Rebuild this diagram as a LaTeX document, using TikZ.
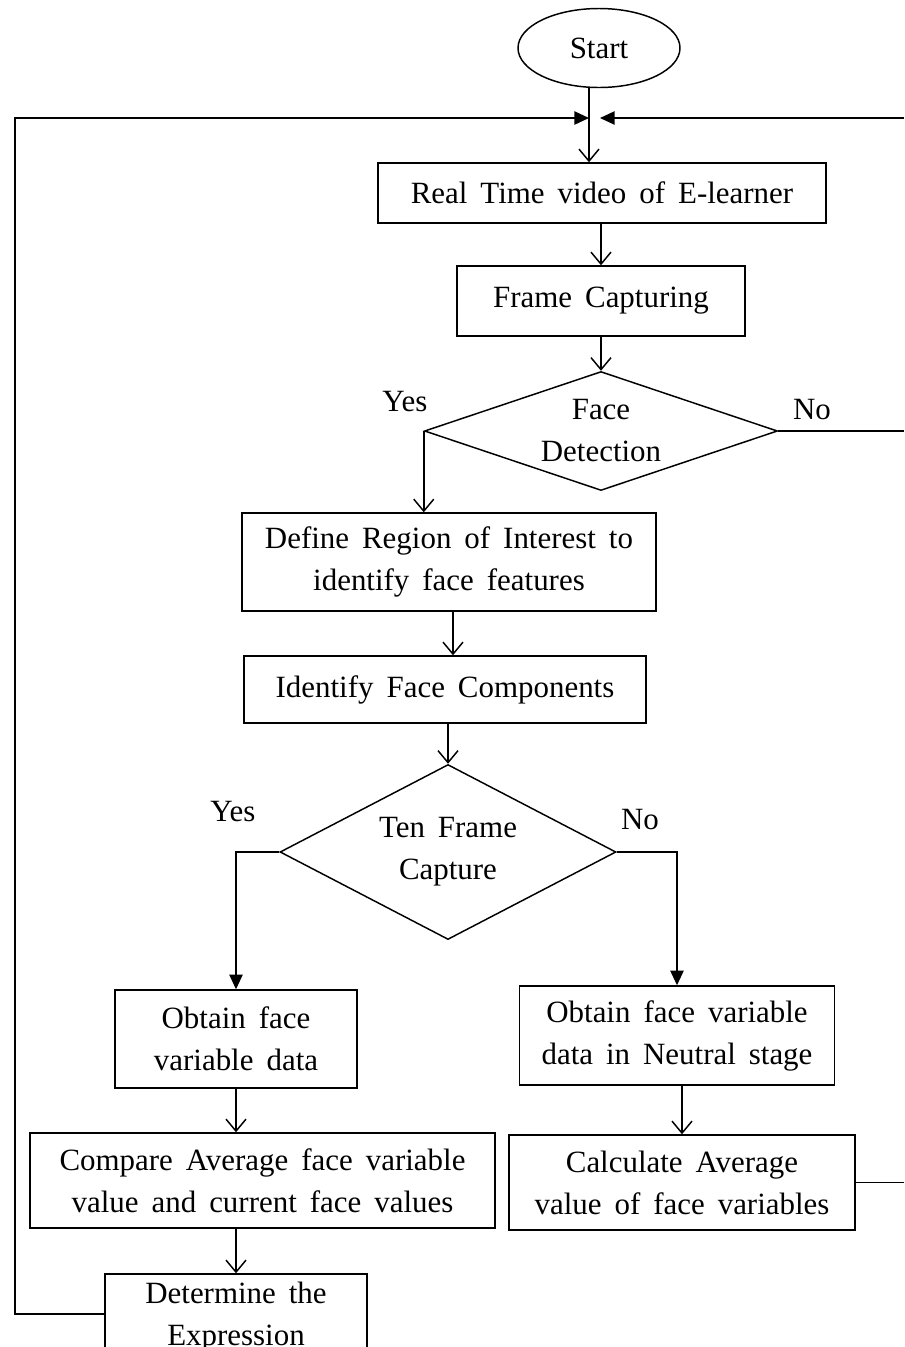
\documentclass[tikz,border=0pt]{standalone}
\usepackage{fontspec}
\setmainfont{Liberation Serif}
\usetikzlibrary{shapes.geometric,arrows.meta}
\newcommand{\chartfont}{\fontsize{23.2}{31.5}\selectfont\spaceskip 0.42em plus 0.1em minus 0.05em\relax}
\begin{document}
\begin{tikzpicture}[x=0.75pt,y=-0.75pt,
  every node/.style={font=\chartfont},
  box/.style={draw,line width=1.1pt,inner sep=0pt,align=center},
  decision/.style={draw,diamond,line width=1.1pt,inner sep=0pt},
  flow/.style={line width=1.1pt},
  openarr/.style={flow,-{Straight Barb[length=9pt,width=15pt]}},
  fillarr/.style={flow,-{Triangle[length=11pt,width=10pt]}},
  lbl/.style={inner sep=0pt}]
\useasboundingbox (0,0) rectangle (904,1347);
\clip (0,0) rectangle (904,1347);

% nodes
\node[draw,ellipse,line width=1.1pt,inner sep=0pt,minimum width=121.5pt,minimum height=59.25pt] (start) at (599,48) {Start};
\node[box,minimum width=336pt,minimum height=45pt] (video) at (602,193) {Real Time video of E-learner};
\node[box,minimum width=216pt,minimum height=52.5pt] (frame) at (601,301) {Frame Capturing};
\node[decision,minimum width=264.75pt,minimum height=89.25pt] (face) at (601,431) {};
\node[align=center] (facetxt) at (face.center) {Face\\Detection};
\node[box,minimum width=310.5pt,minimum height=73.5pt] (roi) at (449,562) {Define Region of Interest to\\identify face features};
\node[box,minimum width=301.5pt,minimum height=50.25pt] (comp) at (445,689.5) {Identify Face Components};
\node[decision,minimum width=252pt,minimum height=131.25pt] (ten) at (448,852) {};
\node[align=center] (tentxt) at (ten.center) {Ten Frame\\Capture};
\node[box,minimum width=181.5pt,minimum height=73.5pt] (obtain) at (236,1039) {Obtain face\\variable data};
\node[box,minimum width=236.25pt,minimum height=74.25pt] (neutral) at (677,1035.5) {Obtain face variable\\data in Neutral stage};
\node[box,minimum width=348.75pt,minimum height=71.25pt] (compare) at (262.5,1180.5) {Compare Average face variable\\value and current face values};
\node[box,minimum width=259.5pt,minimum height=71.25pt] (avg) at (682,1182.5) {Calculate Average\\value of face variables};
\node[box,minimum width=196.5pt,minimum height=64.5pt] (expr) at (236,1317) {Determine the\\Expression};

% branch labels
\node[lbl] (yes1) at (405,402) {Yes};
\node[lbl] (no1) at (812,410) {No};
\node[lbl] (yes2) at (233,812) {Yes};
\node[lbl] (no2) at (640,820) {No};

% junction points of the loops
\coordinate (jl) at (589,118);
\coordinate (jr) at (600,118);
\coordinate (redge) at (904,118);
\coordinate (lcorner) at (15,1314);

% main flow
\draw[openarr] (jl |- start.south) -- (jl |- video.north);
\draw[openarr] (frame.north |- video.south) -- (frame.north);
\draw[openarr] (frame.south) -- (face.north);
\draw[openarr] (face.west) -- (face.west |- roi.north);
\draw[flow] (face.east) -- (face.east -| redge);
\draw[openarr] ([xshift=3pt]roi.south) -- ([xshift=3pt]roi.south |- comp.north);
\draw[openarr] (ten.north |- comp.south) -- (ten.north);
\draw[fillarr] (ten.west) -| (obtain.north);
\draw[fillarr] (ten.east) -| (neutral.north);
\draw[openarr] (obtain.south) -- (obtain.south |- compare.north);
\draw[openarr] (avg.north |- neutral.south) -- (avg.north);
\draw[openarr] (expr.north |- compare.south) -- (expr.north);
\draw[flow] (avg.east) -- (avg.east -| redge);

% return paths
\draw[fillarr] (expr.west |- lcorner) -- (lcorner) -- (lcorner |- jl) -- (jl);
\draw[fillarr] (redge) -- (jr);
\end{tikzpicture}
\end{document}
